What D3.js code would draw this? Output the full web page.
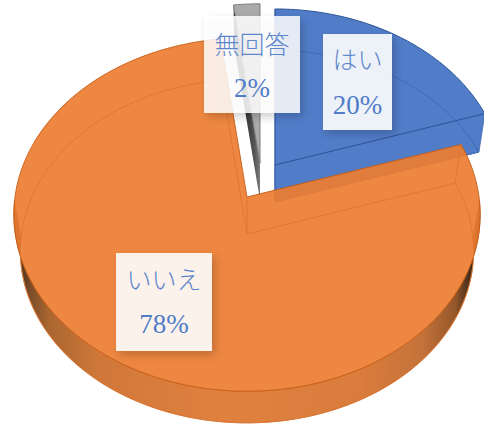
<!DOCTYPE html>
<html>
<head>
<meta charset="utf-8">
<script src="https://cdn.jsdelivr.net/npm/d3@7/dist/d3.min.js"></script>
<style>
html,body{margin:0;padding:0;background:#fff;overflow:hidden}
svg{display:block}
</style>
</head>
<body>
<script>
// Survey answers
const categories = ["はい", "いいえ", "無回答"];
const percentages = [20, 78, 2];

const width = 484, height = 425;

// Tilted pie geometry
const radiusX = 232, radiusY = 175, perspective = 0.0992;
const rimDepth = 37, rimShrink = 0.972;

const pieLayout = d3.pie().sort(null).value(d => d)(percentages);

// Per-slice styling and explosion offset
const sliceStyle = [
  {apex: [275, 165], scale: 0.98, fill: "#4472c4", edge: "#2f5597", rim: "#3c66b2", opacity: 0.93},
  {apex: [247, 197], scale: 1,    fill: "#ed7d31", edge: "#c55a11", rim: "#df7630", opacity: 0.92},
  {apex: [260, 163], scale: 1,    fill: "#a5a5a5", edge: "#7f7f7f", rim: "#7f7f7f", opacity: 0.95}
];
const labelBoxes = [
  {x: 323, y: 34, w: 69, h: 96, nameY: 60, valueY: 105, alpha: 0.89},
  {x: 116, y: 253, w: 96, h: 98, nameY: 280, valueY: 324, alpha: 0.89},
  {x: 204, y: 16, w: 96, h: 97, nameY: 45, valueY: 88, alpha: 0.84}
];

function project(apex, scale, theta, lowered) {
  const X = Math.sin(theta), Z = Math.cos(theta);
  const s = scale / (1 + perspective * Z) * (lowered ? rimShrink : 1);
  return [
    apex[0] + radiusX * X * s,
    apex[1] + (lowered ? rimDepth : 0) - radiusY * Z * s
  ];
}
function arcPoints(style, a0, a1, lowered) {
  const n = Math.max(2, Math.ceil(Math.abs(a1 - a0) / 0.02));
  return d3.range(n + 1).map(i => project(style.apex, style.scale, a0 + (a1 - a0) * i / n, lowered));
}
const line = d3.line();
const closed = pts => line(pts) + "Z";

const svg = d3.select("body").append("svg").attr("width", width).attr("height", height);
const defs = svg.append("defs");

// Shading along the front wall of the large slice
const wallGrad = defs.append("linearGradient").attr("id", "wallShade")
  .attr("gradientUnits", "userSpaceOnUse").attr("x1", 16).attr("x2", 478).attr("y1", 0).attr("y2", 0);
[[0.0, "#33261c"], [0.03, "#7a4c28"], [0.07, "#a9662f"], [0.18, "#d0783a"], [0.45, "#e0813f"],
 [0.75, "#d97c3c"], [0.88, "#c4723a"], [0.95, "#95572a"], [0.985, "#3e2a1a"], [1, "#2a1f16"]]
  .forEach(([o, c]) => wallGrad.append("stop").attr("offset", o).attr("stop-color", c));

const greyGrad = defs.append("linearGradient").attr("id", "greyWall")
  .attr("gradientUnits", "userSpaceOnUse").attr("x1", 243).attr("x2", 262).attr("y1", 0).attr("y2", 0);
[[0, "#2c2c2c"], [0.6, "#555"], [1, "#8a8a8a"]]
  .forEach(([o, c]) => greyGrad.append("stop").attr("offset", o).attr("stop-color", c));

const shadow = defs.append("filter").attr("id", "boxShadow")
  .attr("x", "-20%").attr("y", "-20%").attr("width", "150%").attr("height", "150%");
shadow.append("feDropShadow").attr("dx", 3).attr("dy", 4).attr("stdDeviation", 4)
  .attr("flood-color", "#000").attr("flood-opacity", 0.22);

function drawSlice(index) {
  const d = pieLayout[index], st = sliceStyle[index];
  const g = svg.append("g");
  const a0 = d.startAngle, a1 = d.endAngle;
  const apexTop = st.apex;
  const apexLow = [st.apex[0], st.apex[1] + rimDepth];
  const top = arcPoints(st, a0, a1, false);
  const low = arcPoints(st, a0, a1, true);

  if (index === 0) {
    // Side face of the blue slice along its cut
    g.append("path")
      .attr("d", closed([apexTop, top[top.length - 1], low[low.length - 1], apexLow]))
      .attr("fill", st.fill).attr("fill-opacity", st.opacity).attr("stroke", st.rim).attr("stroke-width", 0.8);
  }
  if (index === 2) {
    // Cut wall of the grey slice, seen from the side
    g.append("path")
      .attr("d", closed([apexTop, top[0], low[0], apexLow]))
      .attr("fill", "url(#greyWall)").attr("stroke", "none");
  }
  if (index === 1) {
    // Curved front wall, limited to the half that faces the viewer
    const fa0 = Math.PI * 0.5 + 0.02, fa1 = Math.PI * 1.5 - 0.02;
    const fTop = arcPoints(st, fa0, fa1, false);
    const fLow = arcPoints(st, fa0, fa1, true);
    g.append("path")
      .attr("d", closed(fTop.concat(fLow.slice().reverse())))
      .attr("fill", "url(#wallShade)").attr("stroke", "#c8692a").attr("stroke-width", 0.7);
  }

  // Upper face
  g.append("path")
    .attr("d", closed([apexTop].concat(top)))
    .attr("fill", st.fill).attr("fill-opacity", st.opacity)
    .attr("stroke", st.edge).attr("stroke-width", index === 1 ? 0.9 : 1);

  // Lower rim showing through the translucent face
  if (index !== 2) {
    g.append("path")
      .attr("d", line([top[0], low[0], apexLow].concat(low.slice().reverse())))
      .attr("fill", "none").attr("stroke", st.rim).attr("stroke-width", 1)
      .attr("stroke-opacity", 0.85);
    g.append("path")
      .attr("d", line([apexTop, apexLow]))
      .attr("fill", "none").attr("stroke", st.rim).attr("stroke-width", 1).attr("stroke-opacity", 0.85);
  }
}

// Back slices first so the large one sits in front
[2, 0, 1].forEach(drawSlice);

// Data labels
const labels = svg.append("g")
  .selectAll("g").data(categories).join("g");

labels.append("rect")
  .attr("x", (d, i) => labelBoxes[i].x)
  .attr("y", (d, i) => labelBoxes[i].y)
  .attr("width", (d, i) => labelBoxes[i].w)
  .attr("height", (d, i) => labelBoxes[i].h)
  .attr("fill", "#fff")
  .attr("fill-opacity", (d, i) => labelBoxes[i].alpha)
  .attr("filter", "url(#boxShadow)");

labels.append("text")
  .attr("x", (d, i) => labelBoxes[i].x + labelBoxes[i].w / 2)
  .attr("y", (d, i) => labelBoxes[i].nameY)
  .attr("dy", "0.36em")
  .attr("text-anchor", "middle")
  .attr("font-family", "'Noto Sans CJK JP', sans-serif")
  .attr("font-weight", 300)
  .attr("font-size", 25)
  .attr("fill", "#5d86cc")
  .text(d => d);

labels.append("text")
  .attr("x", (d, i) => labelBoxes[i].x + labelBoxes[i].w / 2)
  .attr("y", (d, i) => labelBoxes[i].valueY)
  .attr("dy", "0.34em")
  .attr("text-anchor", "middle")
  .attr("font-family", "'Liberation Serif', serif")
  .attr("font-size", 27)
  .attr("fill", "#4f7cc8")
  .text((d, i) => percentages[i] + "%");
</script>
</body>
</html>
